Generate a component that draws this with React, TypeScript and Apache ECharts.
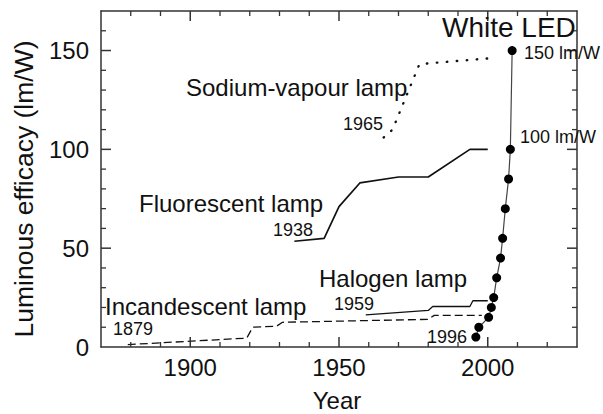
import React, { useEffect, useRef } from "react";
import * as echarts from "echarts";

const ledYears = [1996, 1997, 2000.3, 2001.2, 2002, 2003, 2004.3, 2005, 2005.9, 2007, 2007.6, 2008.2];
const ledEfficacy = [5, 10, 15, 20, 25, 35, 45, 55, 70, 85, 100, 150];

const sodiumYears = [1965, 1968, 1977, 1980, 2000];
const sodiumEfficacy = [106, 110, 143, 143.5, 146];

const fluorescentYears = [1935, 1945, 1950, 1957, 1970, 1980, 1994, 2000];
const fluorescentEfficacy = [53.5, 55, 71, 83, 86, 86, 100, 100];

const halogenYears = [1959, 1980, 1981.5, 1994, 1995, 2000];
const halogenEfficacy = [16.3, 18.5, 20.5, 20.5, 23.4, 23.4];

const incandescentYears = [1879, 1919, 1921, 1929, 1931, 1980, 1982, 1998];
const incandescentEfficacy = [1.2, 4.5, 10, 10.5, 12.5, 14, 16, 16];

const X_MIN = 1870;
const X_MAX = 2030;
const Y_MIN = 0;
const Y_MAX = 170;
const xTickValues = [1880, 1890, 1900, 1910, 1920, 1930, 1940, 1950, 1960, 1970, 1980, 1990, 2000, 2010, 2020];
const xMajorTicks = [1900, 1950, 2000];
const yTickValues = [10, 20, 30, 40, 50, 60, 70, 80, 90, 100, 110, 120, 130, 140, 150, 160];
const yMajorTicks = [0, 50, 100, 150];

const FONT = "'Liberation Sans', Arial, Helvetica, sans-serif";
const INK = "#111";
const AXIS = "#333";

const zip = (xs: number[], ys: number[]) => xs.map((x, i) => [x, ys[i]]);

export default function App() {
  const ref = useRef<HTMLDivElement>(null);
  useEffect(() => {
    if (!ref.current) return;
    const chart = echarts.init(ref.current, undefined, { renderer: "svg" });

    const axisCommon = (labels: boolean, majorValues: number[], margin: number) => ({
      type: "value",
      interval: 10,
      axisLine: { show: true, onZero: false, lineStyle: { color: AXIS, width: 1.5 } },
      axisTick: { show: false },
      axisLabel: labels
        ? {
            show: true,
            customValues: majorValues,
            formatter: (v: number) => String(v),
            fontSize: 24,
            color: INK,
            fontFamily: FONT,
            margin,
          }
        : { show: false },
      splitLine: { show: false },
    });

    const txt = (text: string, x: number, y: number, size: number, align = "left", rotation = 0) => ({
      type: "text",
      x,
      y,
      rotation,
      silent: true,
      z: 10,
      style: { text, fill: INK, fontSize: size, fontFamily: FONT, align, verticalAlign: "middle" },
    });

    const texts = [
      txt("White LED", 442, 27, 28),
      txt("150 lm/W", 524, 53, 18),
      txt("100 lm/W", 520, 137, 18),
      txt("Sodium-vapour lamp", 186, 87, 24),
      txt("1965", 383, 124, 18, "right"),
      txt("Fluorescent lamp", 139, 203, 24),
      txt("1938", 313, 230, 18, "right"),
      txt("Halogen lamp", 319, 278, 24),
      txt("1959", 374, 304, 18, "right"),
      txt("Incandescent lamp", 105, 306, 24),
      txt("1879", 113, 329, 18),
      txt("1996", 427, 337, 18),
      txt("Year", 337, 400, 24, "center"),
      txt("Luminous efficacy (lm/W)", 24, 189, 26.5, "center", Math.PI / 2),
    ];

    chart.setOption({
      animation: false,
      backgroundColor: "#fff",
      grid: { left: 101, right: 26, top: 11, bottom: 67, containLabel: false },
      xAxis: [
        { ...axisCommon(true, xMajorTicks, 8), position: "bottom", min: X_MIN, max: X_MAX },
        { ...axisCommon(false, xMajorTicks, 8), position: "top", min: X_MIN, max: X_MAX },
      ],
      yAxis: [
        { ...axisCommon(true, yMajorTicks, 12), position: "left", min: Y_MIN, max: Y_MAX },
        { ...axisCommon(false, yMajorTicks, 12), position: "right", min: Y_MIN, max: Y_MAX },
      ],
      series: [
        {
          name: "Incandescent lamp",
          type: "line",
          data: zip(incandescentYears, incandescentEfficacy),
          showSymbol: false,
          lineStyle: { color: "#111", width: 1.3, type: [8, 4] },
        },
        {
          name: "Halogen lamp",
          type: "line",
          data: zip(halogenYears, halogenEfficacy),
          showSymbol: false,
          lineStyle: { color: "#111", width: 1.3 },
        },
        {
          name: "Fluorescent lamp",
          type: "line",
          data: zip(fluorescentYears, fluorescentEfficacy),
          showSymbol: false,
          lineStyle: { color: "#111", width: 1.7 },
        },
        {
          name: "Sodium-vapour lamp",
          type: "line",
          data: zip(sodiumYears, sodiumEfficacy),
          showSymbol: false,
          lineStyle: { color: "#111", width: 2.4, type: [0.5, 9.5], cap: "round" },
        },
        {
          name: "White LED",
          type: "line",
          data: zip(ledYears, ledEfficacy),
          symbol: "circle",
          symbolSize: 9,
          showSymbol: true,
          itemStyle: { color: "#000" },
          lineStyle: { color: "#444", width: 1.2 },
          z: 5,
        },
      ],
      graphic: texts,
    });

    // Inward tick marks on all four sides, placed through the axes' own scales.
    const ticks: any[] = [];
    try {
      const px = (x: number, y: number) =>
        chart.convertToPixel({ xAxisIndex: 0, yAxisIndex: 0 }, [x, y]) as number[];
      const tickRect = (x: number, y: number, w: number, h: number) => ({
        type: "rect",
        silent: true,
        z: 9,
        shape: { x, y, width: w, height: h },
        style: { fill: AXIS },
      });
      xTickValues.forEach((v) => {
        const major = xMajorTicks.includes(v);
        const len = major ? 10 : 5;
        const w = major ? 1.5 : 1.3;
        const b = px(v, Y_MIN);
        const t = px(v, Y_MAX);
        ticks.push(tickRect(b[0] - w / 2, b[1] - len, w, len));
        ticks.push(tickRect(t[0] - w / 2, t[1], w, len));
      });
      yTickValues.forEach((v) => {
        const major = yMajorTicks.includes(v);
        const len = major ? 10 : 5;
        const w = major ? 1.5 : 1.3;
        const l = px(X_MIN, v);
        const r = px(X_MAX, v);
        ticks.push(tickRect(l[0], l[1] - w / 2, len, w));
        ticks.push(tickRect(r[0] - len, r[1] - w / 2, len, w));
      });
    } catch (e) {
      // ticks are decorative; ignore if conversion fails
    }
    chart.setOption({ graphic: [...texts, ...ticks] });

    return () => chart.dispose();
  }, []);
  return (
    <div
      ref={ref}
      style={{ position: "absolute", left: 0, top: 0, width: 603, height: 414, background: "#fff" }}
    />
  );
}
